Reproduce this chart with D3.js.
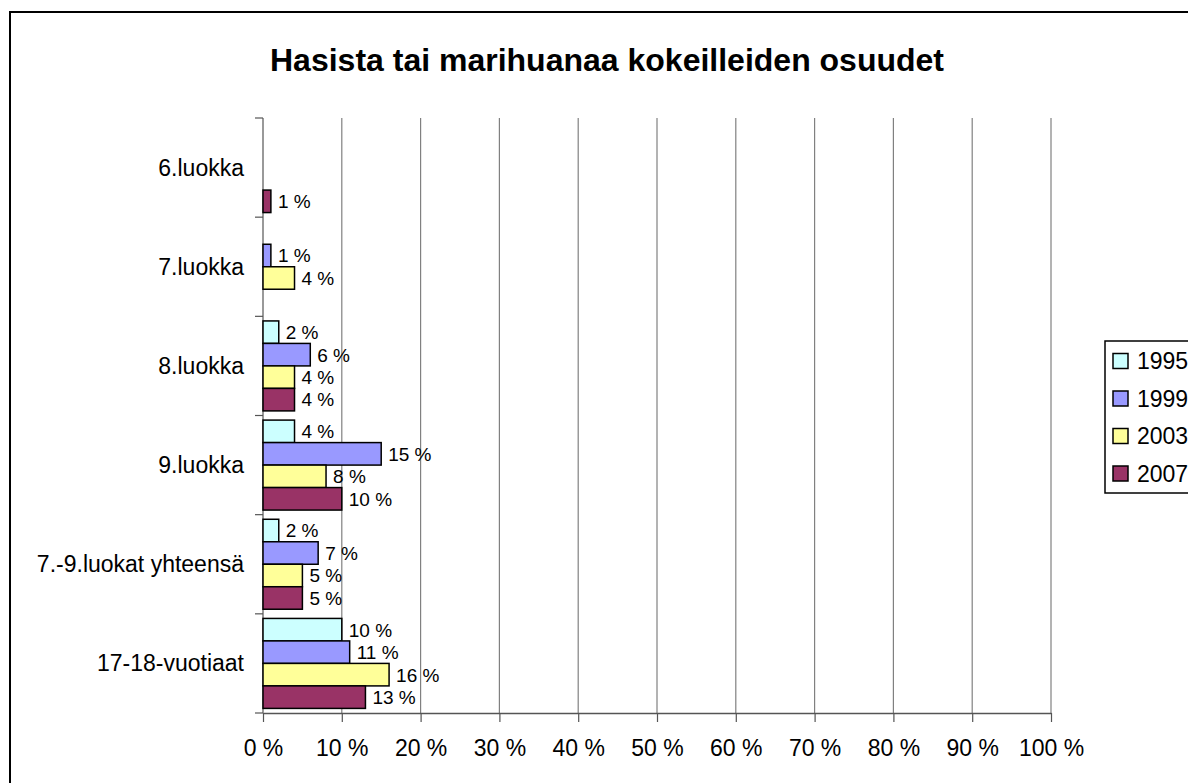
<!DOCTYPE html>
<html>
<head>
<meta charset="utf-8">
<script src="https://cdn.jsdelivr.net/npm/d3@7"></script>
<style>
  body { margin: 0; background: #fff; }
  svg { font-family: Arial, "Liberation Sans", sans-serif; }
</style>
</head>
<body>
<svg id="chart" width="1188" height="783"></svg>
<script>
  // data (null = no bar)
  var categories = ["6.luokka", "7.luokka", "8.luokka", "9.luokka", "7.-9.luokat yhteensä", "17-18-vuotiaat"];
  var years = ["1995", "1999", "2003", "2007"];
  var colors = ["#CCFFFF", "#9999FF", "#FFFF99", "#993366"];
  var v1995 = [null, null, 2, 4, 2, 10];
  var v1999 = [null, 1, 6, 15, 7, 11];
  var v2003 = [null, 4, 4, 8, 5, 16];
  var v2007 = [1, null, 4, 10, 5, 13];
  var xTicks = [0, 10, 20, 30, 40, 50, 60, 70, 80, 90, 100];

  var series = [v1995, v1999, v2003, v2007];
  var plot = {left: 263, top: 118, right: 1051, bottom: 713};

  var svg = d3.select("#chart");

  // outer frame (runs off the right and bottom edge)
  svg.append("rect")
    .attr("x", 10).attr("y", 12)
    .attr("width", 1300).attr("height", 900)
    .attr("fill", "none").attr("stroke", "#000").attr("stroke-width", 2);

  svg.append("text")
    .attr("x", 607).attr("y", 71)
    .attr("text-anchor", "middle")
    .attr("font-size", 32).attr("font-weight", "bold")
    .text("Hasista tai marihuanaa kokeilleiden osuudet");

  var x = d3.scaleLinear().domain([0, 100]).range([plot.left, plot.right]);
  var y0 = d3.scaleBand().domain(categories).range([plot.top, plot.bottom]);
  var y1 = d3.scaleBand().domain(years).range([4.6, y0.bandwidth() - 4.6]);

  // grid
  svg.append("g").selectAll("line")
    .data(xTicks.slice(1))
    .join("line")
    .attr("x1", d => x(d)).attr("x2", d => x(d))
    .attr("y1", plot.top).attr("y2", plot.bottom)
    .attr("stroke", "#808080").attr("stroke-width", 1.2);

  // x axis
  var xAxis = svg.append("g")
    .attr("transform", "translate(0," + plot.bottom + ")")
    .call(d3.axisBottom(x).tickValues(xTicks).tickSize(9).tickSizeOuter(0).tickPadding(18)
      .tickFormat(d => d + " %"));
  xAxis.select(".domain").attr("stroke", "#555").attr("stroke-width", 1.5);
  xAxis.selectAll(".tick line").attr("stroke", "#555").attr("stroke-width", 1.2);
  xAxis.selectAll("text").attr("font-size", 23).attr("fill", "#000")
    .attr("font-family", "Arial, 'Liberation Sans', sans-serif");

  // y axis: ticks on band edges, labels in the middle of each band
  var yAxis = svg.append("g");
  yAxis.append("line")
    .attr("x1", plot.left).attr("x2", plot.left)
    .attr("y1", plot.top).attr("y2", plot.bottom)
    .attr("stroke", "#777").attr("stroke-width", 1.5);
  var edges = categories.map(c => y0(c)).concat([plot.bottom]);
  yAxis.selectAll("line.tk")
    .data(edges)
    .join("line").attr("class", "tk")
    .attr("x1", plot.left - 8).attr("x2", plot.left)
    .attr("y1", d => d).attr("y2", d => d)
    .attr("stroke", "#555").attr("stroke-width", 1.2);
  yAxis.selectAll("text")
    .data(categories)
    .join("text")
    .attr("x", 244)
    .attr("y", d => y0(d) + y0.bandwidth() / 2)
    .attr("dy", "0.35em")
    .attr("text-anchor", "end")
    .attr("font-size", 23)
    .text(d => d);

  // bars
  var rows = [];
  categories.forEach(function(c, i) {
    years.forEach(function(yr, j) {
      if (series[j][i] != null) rows.push({cat: c, year: yr, value: series[j][i], color: colors[j]});
    });
  });

  var bars = svg.append("g");
  bars.selectAll("rect")
    .data(rows)
    .join("rect")
    .attr("x", x(0))
    .attr("y", d => y0(d.cat) + y1(d.year))
    .attr("width", d => x(d.value) - x(0))
    .attr("height", y1.bandwidth())
    .attr("fill", d => d.color)
    .attr("stroke", "#000").attr("stroke-width", 1.5);

  bars.selectAll("text")
    .data(rows)
    .join("text")
    .attr("x", d => x(d.value) + 7)
    .attr("y", d => y0(d.cat) + y1(d.year) + y1.bandwidth() / 2)
    .attr("dy", "0.36em")
    .attr("font-size", 19)
    .text(d => d.value + " %");

  // legend
  var legend = svg.append("g");
  legend.append("rect")
    .attr("x", 1105).attr("y", 341)
    .attr("width", 200).attr("height", 152)
    .attr("fill", "#fff").attr("stroke", "#000").attr("stroke-width", 1.5);
  var item = legend.selectAll("g.item")
    .data(years)
    .join("g").attr("class", "item")
    .attr("transform", (d, i) => "translate(1113," + (361 + i * 37.5) + ")");
  item.append("rect")
    .attr("x", 0).attr("y", -7.5)
    .attr("width", 15).attr("height", 15)
    .attr("fill", (d, i) => colors[i])
    .attr("stroke", "#000").attr("stroke-width", 1.5);
  item.append("text")
    .attr("x", 24).attr("dy", "0.36em")
    .attr("font-size", 23)
    .text(d => d);
</script>
</body>
</html>
